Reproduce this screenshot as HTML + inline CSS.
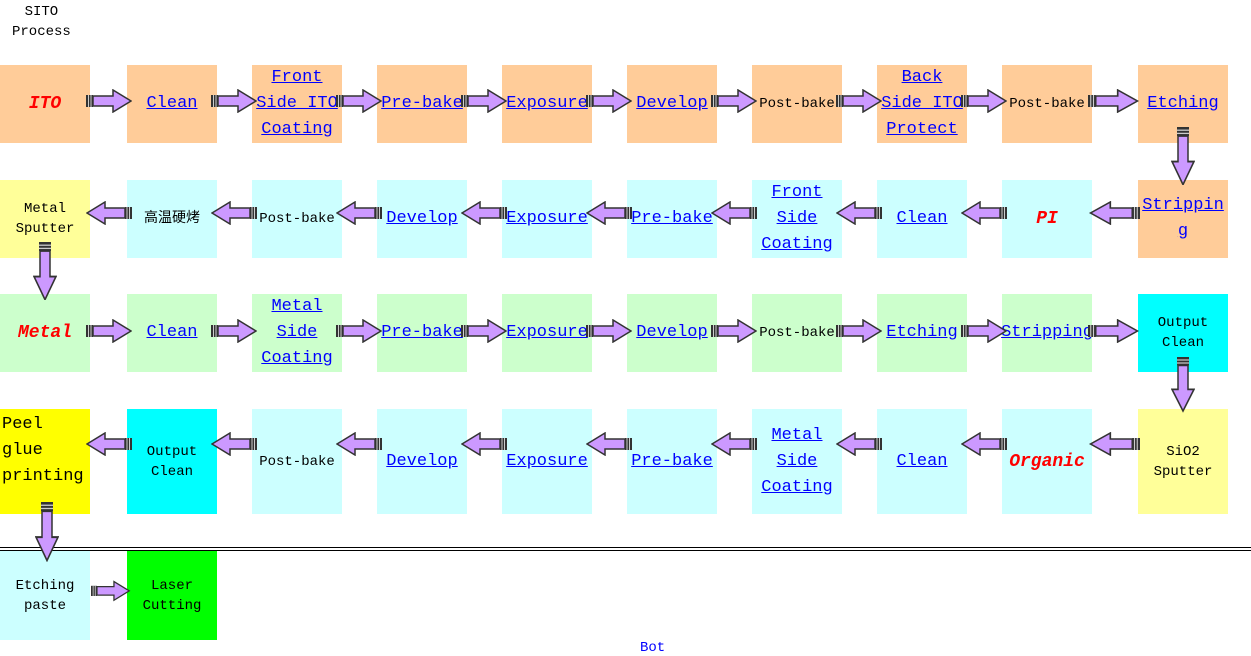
<!DOCTYPE html>
<html><head><meta charset="utf-8"><style>
body{margin:0;width:1251px;height:650px;position:relative;overflow:hidden;background:#fff;font-family:"Liberation Mono","Noto Sans CJK SC",monospace}
.b{position:absolute;width:90px;display:flex;align-items:center;justify-content:center;text-align:center;flex-direction:column}
.l{color:#0000ff;text-decoration:underline;font-size:17px;line-height:26px}
.s{color:#000;font-size:14px;line-height:20px}
.r{color:#ff0000;font-weight:bold;font-style:italic;font-size:18px}
.o{background:#ffcc99}.c{background:#ccffff}.y{background:#ffff99}.g{background:#ccffcc}.C{background:#00ffff}.Y{background:#ffff00}.G{background:#00ff00}
.r1{top:65px;height:78px}.r2{top:180px;height:78px}.r3{top:294px;height:78px}.r4{top:409px;height:105px}.r5{top:551px;height:89px}
svg{position:absolute}
</style></head><body>
<div style="position:absolute;left:12px;top:2px;font-size:14px;line-height:20px;text-align:center">SITO<br>Process</div>

<svg width="0" height="0" style="position:absolute"><defs>
<g id="ar"><rect x="0" y="6" width="7" height="12" fill="#333"/><rect x="2" y="6" width="1" height="12" fill="#ccc"/><rect x="4.5" y="6" width="1" height="12" fill="#ccc"/><polygon points="7,7 27,7 27,1 45,12 27,23 27,17 7,17" fill="#cc99ff" stroke="#333" stroke-width="1.5"/></g>
</defs></svg>

<!-- Row 1 -->
<div class="b o r1" style="left:0"><span class="r">ITO</span></div>
<div class="b o r1" style="left:127px"><span class="l">Clean</span></div>
<div class="b o r1" style="left:252px"><span class="l">Front<br>Side ITO<br>Coating</span></div>
<div class="b o r1" style="left:377px"><span class="l">Pre-bake</span></div>
<div class="b o r1" style="left:502px"><span class="l">Exposure</span></div>
<div class="b o r1" style="left:627px"><span class="l">Develop</span></div>
<div class="b o r1" style="left:752px"><span class="s">Post-bake</span></div>
<div class="b o r1" style="left:877px"><span class="l">Back<br>Side ITO<br>Protect</span></div>
<div class="b o r1" style="left:1002px"><span class="s">Post-bake</span></div>
<div class="b o r1" style="left:1138px"><span class="l">Etching</span></div>

<!-- Row 2 -->
<div class="b y r2" style="left:0"><span class="s">Metal<br>Sputter</span></div>
<div class="b c r2" style="left:127px"><span class="s">高温硬烤</span></div>
<div class="b c r2" style="left:252px"><span class="s">Post-bake</span></div>
<div class="b c r2" style="left:377px"><span class="l">Develop</span></div>
<div class="b c r2" style="left:502px"><span class="l">Exposure</span></div>
<div class="b c r2" style="left:627px"><span class="l">Pre-bake</span></div>
<div class="b c r2" style="left:752px"><span class="l">Front<br>Side<br>Coating</span></div>
<div class="b c r2" style="left:877px"><span class="l">Clean</span></div>
<div class="b c r2" style="left:1002px"><span class="r">PI</span></div>
<div class="b o r2" style="left:1138px"><span class="l">Strippin<br>g</span></div>

<!-- Row 3 -->
<div class="b g r3" style="left:0"><span class="r">Metal</span></div>
<div class="b g r3" style="left:127px"><span class="l">Clean</span></div>
<div class="b g r3" style="left:252px"><span class="l">Metal<br>Side<br>Coating</span></div>
<div class="b g r3" style="left:377px"><span class="l">Pre-bake</span></div>
<div class="b g r3" style="left:502px"><span class="l">Exposure</span></div>
<div class="b g r3" style="left:627px"><span class="l">Develop</span></div>
<div class="b g r3" style="left:752px"><span class="s">Post-bake</span></div>
<div class="b g r3" style="left:877px"><span class="l">Etching</span></div>
<div class="b g r3" style="left:1002px"><span class="l">Stripping</span></div>
<div class="b C r3" style="left:1138px"><span class="s">Output<br>Clean</span></div>

<!-- Row 4 -->
<div class="b Y r4" style="left:0;align-items:flex-start;justify-content:flex-start;text-align:left"><span class="s" style="font-size:17px;line-height:26px;margin-top:3px;margin-left:2px">Peel<br>glue<br>printing</span></div>
<div class="b C r4" style="left:127px"><span class="s">Output<br>Clean</span></div>
<div class="b c r4" style="left:252px"><span class="s">Post-bake</span></div>
<div class="b c r4" style="left:377px"><span class="l">Develop</span></div>
<div class="b c r4" style="left:502px"><span class="l">Exposure</span></div>
<div class="b c r4" style="left:627px"><span class="l">Pre-bake</span></div>
<div class="b c r4" style="left:752px"><span class="l">Metal<br>Side<br>Coating</span></div>
<div class="b c r4" style="left:877px"><span class="l">Clean</span></div>
<div class="b c r4" style="left:1002px"><span class="r">Organic</span></div>
<div class="b y r4" style="left:1138px"><span class="s">SiO2<br>Sputter</span></div>

<!-- separator -->
<div style="position:absolute;left:0;top:547px;width:1251px;height:1px;background:#000"></div>
<div style="position:absolute;left:0;top:550px;width:1251px;height:1px;background:#000"></div>

<!-- Row 5 -->
<div class="b c r5" style="left:0"><span class="s">Etching<br>paste</span></div>
<div class="b G r5" style="left:127px"><span class="s">Laser<br>Cutting</span></div>
<div style="position:absolute;left:640px;top:640px;color:#0000ff;font-size:14px">Bot</div>

<!-- right arrows row1 (y center 101) -->
<svg style="left:86px;top:89px" width="46" height="24"><use href="#ar"/></svg>
<svg style="left:211px;top:89px" width="46" height="24"><use href="#ar"/></svg>
<svg style="left:336px;top:89px" width="46" height="24"><use href="#ar"/></svg>
<svg style="left:461px;top:89px" width="46" height="24"><use href="#ar"/></svg>
<svg style="left:586px;top:89px" width="46" height="24"><use href="#ar"/></svg>
<svg style="left:711px;top:89px" width="46" height="24"><use href="#ar"/></svg>
<svg style="left:836px;top:89px" width="46" height="24"><use href="#ar"/></svg>
<svg style="left:961px;top:89px" width="46" height="24"><use href="#ar"/></svg>
<svg style="left:1088px;top:89px" width="52" height="24"><g transform="scale(1.1,1)"><use href="#ar"/></g></svg>

<!-- left arrows row2 (center 213) -->
<svg style="left:86px;top:201px" width="46" height="24"><g transform="translate(46,0) scale(-1,1)"><use href="#ar"/></g></svg>
<svg style="left:211px;top:201px" width="46" height="24"><g transform="translate(46,0) scale(-1,1)"><use href="#ar"/></g></svg>
<svg style="left:336px;top:201px" width="46" height="24"><g transform="translate(46,0) scale(-1,1)"><use href="#ar"/></g></svg>
<svg style="left:461px;top:201px" width="46" height="24"><g transform="translate(46,0) scale(-1,1)"><use href="#ar"/></g></svg>
<svg style="left:586px;top:201px" width="46" height="24"><g transform="translate(46,0) scale(-1,1)"><use href="#ar"/></g></svg>
<svg style="left:711px;top:201px" width="46" height="24"><g transform="translate(46,0) scale(-1,1)"><use href="#ar"/></g></svg>
<svg style="left:836px;top:201px" width="46" height="24"><g transform="translate(46,0) scale(-1,1)"><use href="#ar"/></g></svg>
<svg style="left:961px;top:201px" width="46" height="24"><g transform="translate(46,0) scale(-1,1)"><use href="#ar"/></g></svg>
<svg style="left:1088px;top:201px" width="52" height="24"><g transform="translate(52,0) scale(-1.1,1)"><use href="#ar"/></g></svg>

<!-- right arrows row3 (center 331) -->
<svg style="left:86px;top:319px" width="46" height="24"><use href="#ar"/></svg>
<svg style="left:211px;top:319px" width="46" height="24"><use href="#ar"/></svg>
<svg style="left:336px;top:319px" width="46" height="24"><use href="#ar"/></svg>
<svg style="left:461px;top:319px" width="46" height="24"><use href="#ar"/></svg>
<svg style="left:586px;top:319px" width="46" height="24"><use href="#ar"/></svg>
<svg style="left:711px;top:319px" width="46" height="24"><use href="#ar"/></svg>
<svg style="left:836px;top:319px" width="46" height="24"><use href="#ar"/></svg>
<svg style="left:961px;top:319px" width="46" height="24"><use href="#ar"/></svg>
<svg style="left:1088px;top:319px" width="52" height="24"><g transform="scale(1.1,1)"><use href="#ar"/></g></svg>

<!-- left arrows row4 (center 444) -->
<svg style="left:86px;top:432px" width="46" height="24"><g transform="translate(46,0) scale(-1,1)"><use href="#ar"/></g></svg>
<svg style="left:211px;top:432px" width="46" height="24"><g transform="translate(46,0) scale(-1,1)"><use href="#ar"/></g></svg>
<svg style="left:336px;top:432px" width="46" height="24"><g transform="translate(46,0) scale(-1,1)"><use href="#ar"/></g></svg>
<svg style="left:461px;top:432px" width="46" height="24"><g transform="translate(46,0) scale(-1,1)"><use href="#ar"/></g></svg>
<svg style="left:586px;top:432px" width="46" height="24"><g transform="translate(46,0) scale(-1,1)"><use href="#ar"/></g></svg>
<svg style="left:711px;top:432px" width="46" height="24"><g transform="translate(46,0) scale(-1,1)"><use href="#ar"/></g></svg>
<svg style="left:836px;top:432px" width="46" height="24"><g transform="translate(46,0) scale(-1,1)"><use href="#ar"/></g></svg>
<svg style="left:961px;top:432px" width="46" height="24"><g transform="translate(46,0) scale(-1,1)"><use href="#ar"/></g></svg>
<svg style="left:1088px;top:432px" width="52" height="24"><g transform="translate(52,0) scale(-1.1,1)"><use href="#ar"/></g></svg>

<!-- row5 right arrow -->
<svg style="left:91px;top:579px" width="46" height="24"><g transform="scale(0.85,0.85) translate(0,2)"><use href="#ar"/></g></svg>

<!-- vertical down arrows -->
<svg style="left:1171px;top:127px" width="24" height="58"><g transform="translate(24,0) rotate(90)"><g transform="scale(1.28,1)"><use href="#ar"/></g></g></svg>
<svg style="left:33px;top:242px" width="24" height="58"><g transform="translate(24,0) rotate(90)"><g transform="scale(1.28,1)"><use href="#ar"/></g></g></svg>
<svg style="left:1171px;top:357px" width="24" height="58"><g transform="translate(24,0) rotate(90)"><g transform="scale(1.2,1)"><use href="#ar"/></g></g></svg>
<svg style="left:35px;top:502px" width="24" height="60"><g transform="translate(24,0) rotate(90)"><g transform="scale(1.3,1)"><use href="#ar"/></g></g></svg>
</body></html>
